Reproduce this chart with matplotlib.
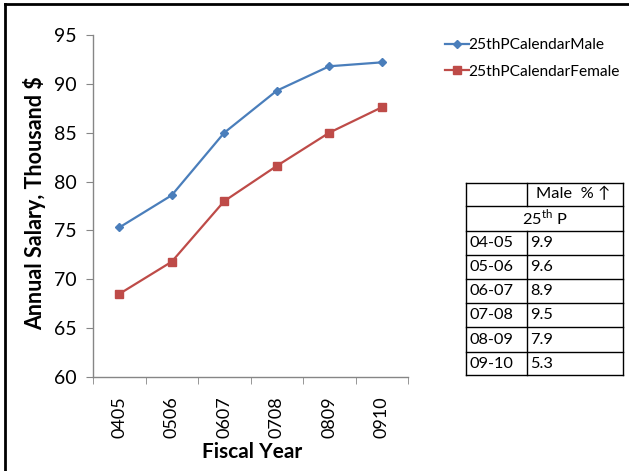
import matplotlib
matplotlib.use("Agg")
import matplotlib.pyplot as plt
from matplotlib.lines import Line2D

plt.rcParams['font.family'] = ['Lato', 'DejaVu Sans']

years = ["0405", "0506", "0607", "0708", "0809", "0910"]
male = [75.3, 78.6, 85.0, 89.3, 91.8, 92.2]
female = [68.5, 71.8, 78.0, 81.6, 85.0, 87.6]
table_years = ["04-05", "05-06", "06-07", "07-08", "08-09", "09-10"]
male_pct = ["9.9", "9.6", "8.9", "9.5", "7.9", "5.3"]
series_names = ["25thPCalendarMale", "25thPCalendarFemale"]

W, H = 629, 471
fig = plt.figure(figsize=(W / 100, H / 100), dpi=100)

def fx(px):
    return px / W

def fy(py):
    return 1 - py / H

ax = fig.add_axes([fx(93), fy(377), fx(408) - fx(93), fy(35) - fy(377)])
x = list(range(len(years)))
blue = "#4A7EBB"
red = "#BE4B48"
ax.plot(x, male, color=blue, lw=1.6, marker="D", ms=4, label=series_names[0])
ax.plot(x, female, color=red, lw=1.6, marker="s", ms=5.5, label=series_names[1])
ax.set_xlim(-0.5, len(years) - 0.5)
ax.set_ylim(60, 95)
ax.set_yticks(range(60, 96, 5))
ax.set_xticks(x)
ax.set_xticklabels(years, rotation=90, fontsize=13)
ax.tick_params(axis='y', labelsize=14, length=5, color="#868686", pad=7)
ax.tick_params(axis='x', length=0, pad=14)
ax.set_xticks([i - 0.5 for i in range(len(years) + 1)], minor=True)
ax.tick_params(axis='x', which='minor', length=5, color="#868686", direction='out')
for s in ["top", "right"]:
    ax.spines[s].set_visible(False)
for s in ["left", "bottom"]:
    ax.spines[s].set_color("#868686")
    ax.spines[s].set_linewidth(1.0)

fig.text(fx(35), fy(203), "Annual Salary, Thousand \\$", rotation=90, fontsize=15.5,
         fontweight="bold", ha="center", va="center")
fig.text(fx(252), fy(452), "Fiscal Year", fontsize=15, fontweight="bold",
         ha="center", va="center")

leg = fig.legend(loc="upper left", bbox_to_anchor=(fx(439), fy(32)), frameon=False,
                 fontsize=11.2, handlelength=1.5, handletextpad=0.0, labelspacing=0.8,
                 borderaxespad=0)

# table
tab = fig.add_axes([0, 0, 1, 1])
tab.set_xlim(0, W)
tab.set_ylim(H, 0)
tab.axis("off")
tx0, tx1, tx2 = 466, 527, 623
rows = [182.7, 205.5, 230.5, 255, 278.5, 303, 327, 352, 375]
lc = "black"
lw = 1.0
for i, r in enumerate(rows):
    tab.plot([tx0, tx2], [r, r], color=lc, lw=lw)
tab.plot([tx0, tx0], [rows[0], rows[-1]], color=lc, lw=lw)
tab.plot([tx2, tx2], [rows[0], rows[-1]], color=lc, lw=lw)
tab.plot([tx1, tx1], [rows[0], rows[1]], color=lc, lw=lw)
tab.plot([tx1, tx1], [rows[2], rows[-1]], color=lc, lw=lw)
fs = 11.8
tab.text(573, (rows[0] + rows[1]) / 2, "Male  % \u2191", ha="center", va="center", fontsize=fs)
tab.text((tx0 + tx2) / 2, (rows[1] + rows[2]) / 2, r"25$^{\mathregular{th}}$ P",
         ha="center", va="center", fontsize=fs)
for i, (yy, pv) in enumerate(zip(table_years, male_pct)):
    yc = (rows[i + 2] + rows[i + 3]) / 2
    tab.text(tx0 + 3, yc, yy, ha="left", va="center", fontsize=fs)
    tab.text(tx1 + 3, yc, pv, ha="left", va="center", fontsize=fs)

# outer border (left and top)
fig.add_artist(Line2D([fx(5), fx(5)], [0, fy(4)], transform=fig.transFigure, color="black", lw=2))
fig.add_artist(Line2D([fx(5), 1], [fy(4), fy(4)], transform=fig.transFigure, color="black", lw=2))

fig.savefig("out.png", dpi=100)
